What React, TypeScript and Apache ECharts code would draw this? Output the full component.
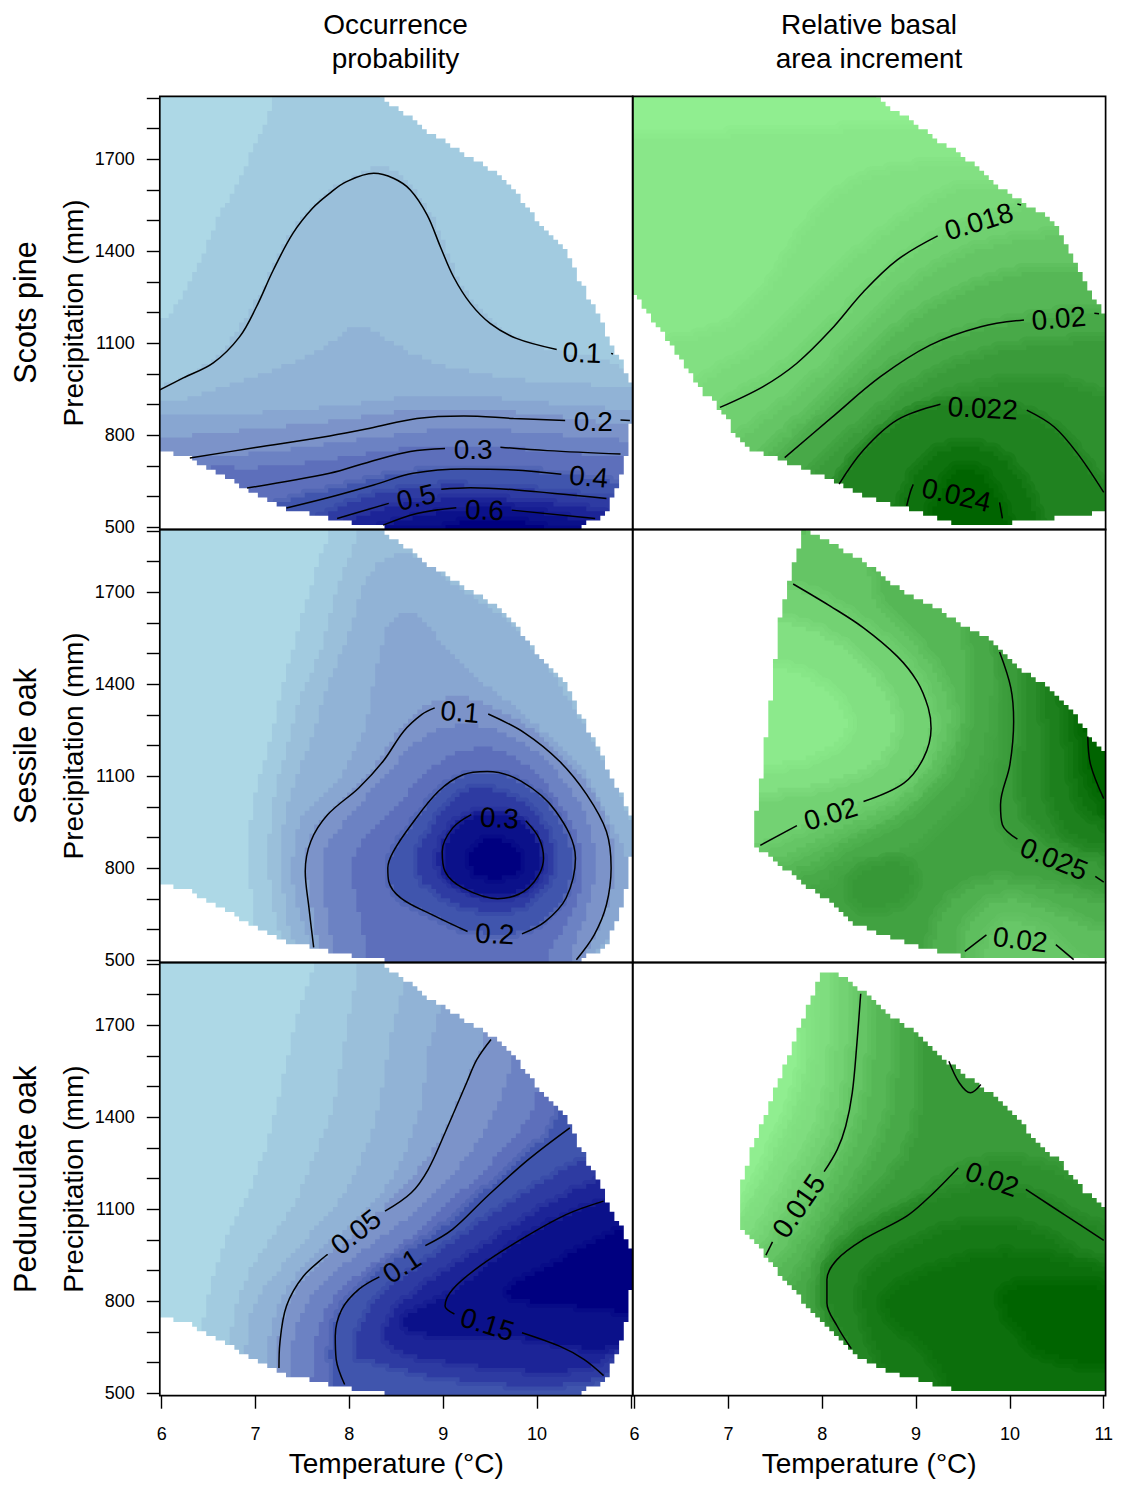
import React, { useEffect, useRef } from "react";
import * as echarts from "echarts";

type Pt = [number, number];
type Level = [number, Pt[]];
type Label = [string, number, number, number];

const XMIN = 5.98, XMAX = 11.02, YMIN = 492.5, YMAX = 1905.3;
const T_TICKS = [6, 7, 8, 9, 10, 11];
const P_TICKS = [500, 600, 700, 800, 900, 1000, 1100, 1200, 1300, 1400, 1500, 1600, 1700, 1800, 1900];
const P_LABELS = [500, 800, 1100, 1400, 1700];
const COLUMN_TITLES = [["Occurrence", "probability"], ["Relative basal", "area increment"]];
const ROW_TITLES = ["Scots pine", "Sessile oak", "Pedunculate oak"];

const BLUES = ["#ADD8E6", "#A2CBE0", "#9ABFDA", "#91B3D6", "#88A6D1", "#7C93C9", "#6C82C3", "#5D6FBB", "#4055AD", "#2E3BA2", "#1C2497", "#0B118A", "#000080"];
const GREEN_LOW = [144, 238, 144], GREEN_HIGH = [0, 100, 0];

const ALL: Pt[] = [[4, 0], [14, 0], [14, 2500], [4, 2500]];
const B: Pt[] = [[14, 0], [4, 0]];
const R: Pt[] = [[14, 2500], [14, 0]];
const E: Pt[] = [[6.5, 0], [14, 0], [14, 2500]];

const ENV_LEFT: Pt[] = [[5.9, 1910], [8.29, 1910], [8.40, 1893], [8.49, 1866], [8.65, 1834], [8.75, 1817], [8.86, 1779], [9.00, 1763], [9.16, 1730], [9.30, 1703], [9.52, 1665], [9.66, 1622], [9.80, 1578], [9.96, 1513], [10.16, 1448], [10.32, 1399], [10.42, 1328], [10.56, 1241], [10.67, 1187], [10.72, 1143], [10.81, 1084], [10.92, 1029], [10.97, 991], [11.01, 958], [11.01, 840], [10.97, 828], [10.97, 758], [10.93, 692], [10.87, 649], [10.81, 605], [10.77, 567], [10.72, 535], [10.56, 518], [10.47, 502], [10.45, 480], [8.38, 480], [8.38, 501], [7.85, 524], [7.31, 563], [6.89, 628], [6.30, 726], [5.97, 752], [5.9, 752]];
const ENV_PINE_GROWTH: Pt[] = [[5.9, 1910], [8.55, 1910], [8.76, 1861], [8.96, 1823], [9.17, 1774], [9.37, 1736], [9.62, 1681], [9.86, 1616], [10.02, 1578], [10.27, 1535], [10.47, 1497], [10.58, 1437], [10.68, 1366], [10.83, 1285], [10.93, 1230], [11.05, 1170], [11.05, 548], [10.88, 545], [10.36, 524], [9.76, 507], [9.46, 507], [9.31, 524], [9.15, 535], [9.01, 551], [8.71, 578], [8.41, 605], [8.16, 643], [7.94, 676], [7.64, 709], [7.23, 757], [7.09, 790], [6.98, 861], [6.84, 910], [6.68, 959], [6.54, 1029], [6.38, 1100], [6.23, 1160], [6.11, 1209], [6.02, 1252], [5.9, 1274]];
const ENV_SESSILE_GROWTH: Pt[] = [[7.8, 1910], [8.0, 1877], [8.3, 1823], [8.6, 1768], [8.8, 1714], [9.12, 1665], [9.4, 1611], [9.72, 1556], [9.86, 1524], [10.02, 1469], [10.22, 1431], [10.47, 1372], [10.63, 1323], [10.77, 1268], [10.83, 1230], [11.05, 1160], [11.05, 502], [9.97, 502], [9.67, 507], [9.31, 524], [8.96, 551], [8.8, 567], [8.55, 594], [8.41, 611], [8.25, 638], [8.09, 692], [7.84, 736], [7.64, 790], [7.43, 839], [7.28, 877], [7.28, 942], [7.34, 1073], [7.39, 1198], [7.44, 1328], [7.49, 1464], [7.54, 1600], [7.59, 1665], [7.64, 1725], [7.69, 1792], [7.75, 1850]];
const ENV_PEDUNCULATE_GROWTH: Pt[] = [[8.0, 1877], [8.1, 1877], [8.3, 1839], [8.44, 1806], [8.65, 1747], [8.8, 1719], [9.05, 1660], [9.26, 1600], [9.51, 1540], [9.76, 1486], [10.02, 1415], [10.27, 1328], [10.58, 1241], [10.77, 1165], [11.05, 1100], [11.05, 507], [9.46, 507], [9.26, 524], [8.96, 551], [8.65, 578], [8.41, 616], [8.16, 687], [7.94, 746], [7.73, 823], [7.59, 871], [7.44, 937], [7.28, 991], [7.14, 1035], [7.14, 1187], [7.23, 1285], [7.34, 1366], [7.49, 1486], [7.64, 1600], [7.79, 1725], [7.89, 1795]];

const PINE_OCC: Level[] = [
  [0, ALL],
  [1, [[4, 900], [5.97, 1153], [6.21, 1251], [6.37, 1339], [6.51, 1437], [6.62, 1525], [6.76, 1590], [6.92, 1698], [7.08, 1805], [7.22, 1904], [7.4, 2200], ...R, [4, 0]]],
  [2, [[4, 900], [5.97, 953], [6.23, 990], [6.55, 1046], [6.76, 1120], [6.97, 1219], [7.12, 1306], [7.29, 1427], [7.47, 1502], [7.79, 1606], [8.26, 1681], [8.54, 1665], [8.75, 1578], [8.93, 1491], [9.11, 1350], [9.22, 1274], [9.36, 1219], [9.57, 1154], [9.93, 1100], [10.28, 1067], [10.64, 1056], [10.85, 1035], [11, 1002], [11.3, 990], ...B]],
  [3, [[4, 880], [5.97, 900], [6.4, 930], [6.9, 985], [7.4, 1035], [7.79, 1100], [8.01, 1156], [8.15, 1156], [8.33, 1127], [8.61, 1073], [8.97, 1029], [9.36, 1002], [9.96, 975], [11, 958], [11.3, 950], ...B]],
  [4, [[4, 840], [6, 860], [6.9, 870], [7.79, 893], [8.11, 904], [8.36, 915], [8.75, 931], [9.25, 931], [9.93, 910], [11, 882], [11.3, 880], ...B]],
  [5, [[4, 780], [6, 790], [7, 820], [7.79, 845], [8.5, 877], [8.86, 882], [9.93, 877], [11, 828], [11.3, 820], ...B]],
  [6, [[4, 700], [6, 720], [7, 740], [7.79, 774], [8.5, 801], [9.22, 834], [9.57, 817], [10.92, 785], [11.3, 770], ...B]],
  [7, [[4, 640], [6.5, 700], [7, 690], [7.79, 720], [8.5, 757], [9.22, 774], [9.93, 752], [10.92, 730], [11.3, 710], ...B]],
  [8, [[6.5, 480], [7.3, 590], [7.79, 622], [8.33, 665], [8.86, 687], [9.57, 687], [10.28, 676], [10.92, 643], [11.3, 620], ...B]],
  [9, [[7, 430], [7.97, 578], [8.33, 611], [8.86, 638], [9.57, 632], [10.28, 611], [10.85, 589], [11.3, 560], ...B]],
  [10, [[7.5, 430], [8.08, 535], [8.5, 573], [9.04, 594], [9.57, 594], [10.28, 573], [10.75, 545], [11.3, 480], ...B]],
  [11, [[8, 440], [8.33, 507], [8.79, 540], [9.22, 562], [9.75, 562], [10.28, 535], [10.53, 513], [11, 440], ...B]],
  [12, [[8.7, 450], [8.97, 502], [9.29, 524], [9.75, 524], [10.1, 502], [10.3, 450], ...B]],
];
const SESSILE_OCC: Level[] = [
  [0, ALL],
  [1, [[7, 300], [6.99, 616], [6.94, 747], [6.94, 975], [7.04, 1094], [7.15, 1214], [7.24, 1334], [7.35, 1464], [7.48, 1605], [7.59, 1725], [7.70, 1823], [7.79, 1899], [7.9, 2200], ...R]],
  [2, [[7.31, 300], [7.31, 507], [7.29, 562], [7.18, 670], [7.14, 779], [7.15, 964], [7.24, 1094], [7.35, 1214], [7.44, 1334], [7.63, 1464], [7.75, 1562], [7.85, 1703], [8.0, 1823], [8.1, 1899], [8.2, 2200], ...R]],
  [3, [[7.48, 300], [7.48, 507], [7.33, 616], [7.29, 736], [7.29, 942], [7.35, 1029], [7.48, 1138], [7.63, 1247], [7.73, 1366], [7.85, 1464], [7.96, 1529], [8.05, 1616], [8.10, 1692], [8.29, 1801], [8.51, 1828], [8.77, 1812], [8.97, 1757], [9.21, 1703], [9.43, 1660], [9.61, 1627], [9.83, 1562], [10.09, 1464], [10.28, 1377], [10.39, 1323], [10.57, 1225], [10.76, 1116], [10.9, 1029], [11.01, 942], [11.3, 900], [14, 0]]],
  [4, [[7.62, 300], [7.62, 529], [7.51, 616], [7.40, 725], [7.39, 833], [7.44, 942], [7.59, 1007], [7.81, 1062], [8.03, 1160], [8.18, 1268], [8.25, 1388], [8.31, 1486], [8.41, 1605], [8.60, 1640], [8.75, 1627], [8.93, 1551], [9.17, 1464], [9.43, 1399], [9.69, 1344], [9.91, 1290], [10.13, 1225], [10.46, 1138], [10.61, 1051], [10.79, 942], [10.98, 833], [10.98, 736], [10.87, 649], [10.76, 562], [10.57, 507], [10.5, 300]]],
  [5, [[7.7, 300], [7.7, 507], [7.6, 670], [7.51, 833], [7.62, 942], [7.92, 1029], [8.25, 1127], [8.51, 1247], [8.77, 1334], [9.17, 1366], [9.5, 1334], [9.94, 1257], [10.31, 1160], [10.64, 1029], [10.83, 888], [10.83, 747], [10.68, 616], [10.5, 507], [10.4, 300]]],
  [6, [[7.85, 300], [7.85, 507], [7.73, 692], [7.7, 855], [7.99, 975], [8.36, 1094], [8.66, 1203], [9.02, 1268], [9.47, 1268], [9.91, 1203], [10.28, 1094], [10.57, 953], [10.64, 801], [10.53, 649], [10.35, 518], [10.3, 300]]],
  [7, [[8.21, 300], [8.21, 507], [8.07, 692], [7.99, 833], [8.29, 942], [8.66, 1062], [9.02, 1170], [9.47, 1203], [9.87, 1149], [10.2, 1040], [10.46, 888], [10.5, 779], [10.39, 649], [10.09, 518], [10.0, 300]]],
  [8, [[8.40, 790], [8.47, 855], [8.66, 942], [8.95, 1051], [9.21, 1105], [9.47, 1116], [9.83, 1084], [10.2, 986], [10.41, 833], [10.31, 703], [10.09, 627], [9.83, 583], [9.24, 594], [8.88, 649], [8.51, 703]]],
  [9, [[8.66, 812], [8.88, 942], [9.17, 1051], [9.5, 1062], [9.87, 1018], [10.13, 920], [10.2, 812], [10.05, 714], [9.69, 649], [9.24, 670], [8.84, 736]]],
  [10, [[8.88, 823], [9.1, 953], [9.43, 997], [9.8, 975], [10.02, 877], [10.09, 790], [9.87, 714], [9.5, 698], [9.1, 747]]],
  [11, [[8.99, 844], [9.1, 920], [9.32, 975], [9.65, 975], [9.91, 942], [10.07, 833], [9.91, 736], [9.58, 703], [9.21, 736], [9.02, 790]]],
  [12, [[9.28, 855], [9.43, 899], [9.72, 888], [9.87, 823], [9.72, 768], [9.43, 768], [9.28, 801]]],
];
const PEDUNCULATE_OCC: Level[] = [
  [0, ALL],
  [1, [[6.43, 300], [6.43, 698], [6.48, 817], [6.63, 958], [6.74, 1056], [6.85, 1100], [7.04, 1241], [7.15, 1339], [7.24, 1458], [7.35, 1611], [7.44, 1730], [7.55, 1828], [7.64, 1904], [7.75, 2200], ...R]],
  [2, [[6.73, 300], [6.73, 676], [6.78, 774], [6.89, 871], [7.0, 937], [7.18, 1013], [7.4, 1111], [7.55, 1219], [7.7, 1328], [7.85, 1458], [7.96, 1665], [8.05, 1817], [8.1, 1904], [8.2, 2200], ...R]],
  [3, [[6.89, 300], [6.89, 654], [6.94, 763], [7.07, 839], [7.33, 937], [7.62, 1035], [7.85, 1111], [8.0, 1176], [8.14, 1274], [8.29, 1404], [8.4, 1578], [8.45, 1698], [8.58, 1806], [8.7, 2200], ...R]],
  [4, [[7.09, 300], [7.09, 611], [7.15, 697], [7.26, 806], [7.44, 893], [7.7, 980], [8.0, 1045], [8.25, 1121], [8.47, 1208], [8.62, 1306], [8.79, 1458], [8.82, 1611], [8.97, 1741], [9.1, 2200], ...R]],
  [5, [[7.2, 300], [7.2, 578], [7.24, 687], [7.35, 806], [7.55, 893], [7.85, 969], [8.18, 1045], [8.47, 1143], [8.77, 1241], [8.99, 1339], [9.17, 1458], [9.3, 1556], [9.47, 1665], [9.6, 2200], ...R]],
  [6, [[7.35, 300], [7.35, 556], [7.4, 697], [7.55, 806], [7.85, 904], [8.21, 980], [8.55, 1056], [8.88, 1143], [9.17, 1241], [9.39, 1328], [9.61, 1458], [9.76, 1589], [9.9, 2200], ...R]],
  [7, [[7.59, 300], [7.59, 556], [7.66, 730], [7.88, 839], [8.21, 915], [8.58, 991], [8.91, 1078], [9.25, 1176], [9.58, 1274], [9.91, 1393], [10.02, 1469], [10.2, 2200], ...R]],
  [8, [[7.81, 300], [7.81, 524], [7.79, 697], [7.96, 806], [8.29, 899], [8.84, 1002], [9.39, 1143], [9.76, 1252], [10.33, 1393], [10.5, 2200], ...R]],
  [9, [[8.05, 600], [8.07, 697], [8.29, 817], [8.84, 937], [9.39, 1056], [9.94, 1165], [10.5, 1274], [11.2, 1263], [11.2, 719], [10.94, 611], [10.68, 545], [10.13, 523], [9.39, 534], [8.66, 567], [8.14, 621]]],
  [10, [[8.36, 665], [8.43, 763], [8.84, 861], [9.47, 991], [10.13, 1121], [10.65, 1198], [11.2, 1250], [11.2, 690], [11, 687], [10.65, 589], [10.13, 567], [9.39, 589], [8.66, 621]]],
  [11, [[8.58, 708], [8.6, 763], [9.02, 806], [9.47, 915], [9.83, 1002], [10.13, 1056], [10.72, 1127], [11.2, 1180], [11.2, 650], [10.87, 654], [10.5, 643], [9.83, 687], [9.02, 687]]],
  [12, [[9.58, 828], [10.13, 915], [10.87, 1035], [11.2, 1050], [11.2, 760], [10.98, 763], [10.5, 784], [9.95, 795]]],
];
const PINE_GROWTH: Level[] = [
  [0, ALL],
  [0.05, [[4, 1763], [5.95, 1763], [7.37, 1779], [9, 1800], [14, 1800], ...B]],
  [0.1, [[4, 800], [6.31, 1100], [6.84, 1122], [7.2, 1187], [7.55, 1317], [7.8, 1459], [8.16, 1578], [8.55, 1654], [9.51, 1687], [14, 1690], ...B]],
  [0.15, [[5, 500], [6.66, 969], [7.37, 1078], [7.94, 1252], [8.44, 1404], [9.08, 1545], [9.51, 1611], [10.22, 1600], [14, 1600], ...B]],
  [0.22, [[5.5, 500], [6.91, 893], [7.55, 991], [8.09, 1143], [8.62, 1306], [9.22, 1448], [10.0, 1524], [10.22, 1545], [14, 1545], ...B]],
  [0.3, [[6, 500], [7.16, 795], [7.94, 969], [8.51, 1165], [9.08, 1317], [9.69, 1415], [10.58, 1459], [14, 1460], ...B]],
  [0.4, [[6.5, 500], [7.44, 741], [8.23, 969], [8.8, 1143], [9.51, 1274], [10.22, 1339], [10.93, 1339], [14, 1340], ...B]],
  [0.5, [[6.5, 400], [7.6, 725], [8.23, 893], [8.8, 1035], [9.37, 1116], [10.15, 1176], [11, 1209], [14, 1210], ...B]],
  [0.6, [[7, 400], [7.91, 676], [8.51, 850], [9.15, 991], [9.86, 1078], [11, 1111], [14, 1115], ...B]],
  [0.68, [[7.5, 400], [8.16, 632], [8.65, 806], [9.22, 915], [10.04, 980], [10.58, 970], [11, 915], [14, 900], ...B]],
  [0.78, [[7.8, 400], [8.18, 643], [8.51, 774], [8.9, 861], [9.26, 901], [10.18, 882], [10.58, 785], [11, 614], [11.5, 400], ...B]],
  [0.9, [[8.7, 400], [8.87, 578], [9.05, 708], [9.44, 774], [9.86, 741], [10.15, 643], [10.29, 524], [10.4, 400], ...B]],
  [1, [[9, 400], [9.15, 535], [9.33, 654], [9.51, 698], [9.72, 665], [9.9, 567], [9.97, 513], [10.1, 400], ...B]],
];
const SESSILE_GROWTH: Level[] = [
  [0.55, ALL],
  [0.5, [[9.79, 2200], [9.79, 1594], [9.83, 1431], [9.76, 1268], [9.72, 1160], [9.51, 1029], [9.15, 920], [8.8, 844], [8.23, 833], [7.94, 725], [7.02, 725], [6.66, 1377], [7.37, 1920], [8, 2200]]],
  [0.4, [[9.44, 2200], [9.44, 1616], [9.54, 1431], [9.51, 1268], [9.37, 1138], [9.08, 1029], [8.65, 942], [8.23, 888], [7.8, 790], [7.02, 780], [6.66, 1377], [7.37, 1920], [8, 2200]]],
  [0.3, [[8.5, 2200], [8.44, 1681], [8.97, 1540], [9.33, 1377], [9.37, 1247], [9.15, 1116], [8.8, 1007], [8.26, 942], [7.73, 855], [7.3, 812], [6.66, 1300], [7.0, 1800], [7.62, 1790]]],
  [0.2, [[7.69, 1725], [8.23, 1632], [8.73, 1518], [9.01, 1420], [9.15, 1312], [9.15, 1225], [9.01, 1127], [8.73, 1051], [8.44, 1018], [7.8, 942], [7.34, 877], [6.66, 900], [6.66, 1700]]],
  [0.1, [[7.52, 1616], [8.09, 1551], [8.51, 1442], [8.76, 1312], [8.76, 1214], [8.51, 1127], [8.09, 1084], [7.55, 1051], [7.02, 1051], [7.02, 1600]]],
  [0.03, [[7.48, 1464], [7.94, 1410], [8.26, 1312], [8.26, 1225], [7.87, 1160], [7.44, 1138], [7.02, 1138], [7.02, 1464]]],
  [0.6, [[9.8, 2200], [9.86, 1551], [10, 1377], [9.97, 1160], [9.86, 996], [10.04, 888], [10.58, 801], [11.04, 747], [14, 747], [14, 2200]]],
  [0.7, [[10.1, 2200], [10.15, 1486], [10.18, 1268], [10.11, 1051], [10.26, 920], [11.04, 822], [14, 822], [14, 2200]]],
  [0.8, [[10.3, 2200], [10.36, 1399], [10.43, 1214], [10.43, 1029], [10.58, 920], [11.04, 866], [14, 866], [14, 2200]]],
  [0.9, [[10.5, 2200], [10.58, 1355], [10.68, 1160], [10.72, 1018], [11.04, 942], [14, 942], [14, 2200]]],
  [1, [[10.7, 2200], [10.79, 1247], [10.84, 1116], [11.04, 986], [14, 986], [14, 2200]]],
  [0.45, [[9.15, 300], [9.15, 486], [9.26, 670], [9.72, 768], [10.4, 736], [11.04, 670], [14, 670], [14, 300]]],
  [0.35, [[9.51, 300], [9.51, 486], [9.54, 627], [9.94, 714], [10.5, 649], [11.04, 573], [14, 573], [14, 300]]],
  [0.28, [[9.72, 300], [9.72, 573], [9.97, 638], [10.43, 584], [10.72, 486], [10.8, 300]]],
  [0.62, [[8.23, 757], [8.73, 834], [9.01, 779], [8.87, 692], [8.44, 660]]],
];
const PEDUNCULATE_GROWTH: Level[] = [
  [0, ALL],
  [0.08, [[7.7, 2200], [7.76, 1806], [7.84, 1589], [7.73, 1447], [7.52, 1306], [7.3, 1165], [7.14, 1067], [6.5, 800], ...E]],
  [0.12, [[7.9, 2200], [7.94, 1893], [7.98, 1589], [7.84, 1426], [7.66, 1285], [7.37, 1132], [7.09, 1013], [6.5, 700], ...E]],
  [0.2, [[8.1, 2200], [8.17, 1871], [8.16, 1589], [8.05, 1393], [7.8, 1241], [7.52, 1100], [7.27, 980], [6.5, 650], ...E]],
  [0.3, [[8.4, 2200], [8.41, 1850], [8.33, 1534], [8.23, 1371], [8.01, 1230], [7.73, 1089], [7.41, 953], [6.5, 600], ...E]],
  [0.4, [[8.6, 2200], [8.58, 1806], [8.55, 1534], [8.44, 1371], [8.23, 1219], [7.94, 1056], [7.59, 915], [6.5, 550], ...E]],
  [0.5, [[8.85, 2200], [8.83, 1752], [8.8, 1480], [8.69, 1328], [8.37, 1165], [8.05, 1013], [7.76, 871], [7.62, 828], [6.5, 500], ...E]],
  [0.6, [[9.1, 2200], [9.08, 1698], [9.08, 1426], [8.94, 1263], [8.51, 1121], [8.16, 1013], [7.94, 882], [7.94, 719], [7.6, 400], ...E]],
  [0.68, [[14, 1132], [11.04, 1132], [10.22, 1263], [9.51, 1241], [9.08, 1132], [8.51, 1045], [8.12, 948], [8.01, 828], [8.16, 676], [8.41, 500], [8.5, 300], [14, 300]]],
  [0.76, [[14, 996], [11.04, 996], [10.18, 1165], [9.51, 1165], [8.97, 1100], [8.44, 1013], [8.08, 915], [8.05, 817], [8.3, 643], [8.51, 502], [8.6, 300], [14, 300]]],
  [0.85, [[14, 882], [11.04, 882], [10.22, 1045], [9.51, 1056], [8.8, 958], [8.44, 871], [8.44, 741], [8.8, 502], [8.9, 300], [14, 300]]],
  [0.92, [[14, 882], [11.04, 882], [10.22, 958], [9.51, 937], [8.73, 839], [8.65, 763], [9.15, 650], [9.4, 502], [9.45, 300], [14, 300]]],
  [1, [[14, 840], [11.04, 840], [10.04, 860], [9.9, 795], [10.15, 687], [10.4, 621], [11.04, 590], [14, 590]]],
];

const PINE_OCC_LINES: Pt[][] = [
  [[5.98, 948], [6.23, 987], [6.55, 1036], [6.83, 1121], [7.01, 1219], [7.19, 1339], [7.40, 1459], [7.61, 1541], [7.79, 1589], [7.97, 1627], [8.26, 1654], [8.47, 1638], [8.65, 1600], [8.83, 1518], [8.97, 1415], [9.11, 1317], [9.29, 1230], [9.5, 1165], [9.78, 1116], [10.21, 1080]],
  [[10.79, 1067], [10.81, 1065]],
  [[6.3, 726], [7.0, 760], [7.79, 798], [8.22, 823], [8.72, 855], [9.22, 863], [9.75, 855], [10.3, 848]],
  [[10.89, 850], [10.99, 848]],
  [[6.91, 628], [7.79, 676], [8.22, 714], [8.65, 747], [9.02, 757]],
  [[9.61, 761], [10.11, 750], [10.89, 739]],
  [[7.33, 563], [7.79, 598], [8.26, 638], [8.68, 676], [9.22, 690], [9.75, 687], [10.26, 673]],
  [[7.87, 529], [8.42, 578]],
  [[8.98, 624], [9.29, 629], [9.78, 622], [10.74, 594]],
  [[8.36, 507], [8.72, 545], [9.14, 564]],
  [[9.73, 556], [10.62, 529]],
];
const SESSILE_OCC_LINES: Pt[][] = [
  [[7.62, 542], [7.57, 670], [7.53, 790], [7.59, 888], [7.77, 975], [8.1, 1062], [8.36, 1149], [8.58, 1247], [8.77, 1301], [8.91, 1323]],
  [[9.48, 1303], [9.87, 1241], [10.24, 1149], [10.53, 1040], [10.74, 920], [10.79, 801], [10.74, 681], [10.61, 583], [10.42, 502]],
  [[9.26, 594], [8.88, 649], [8.55, 703], [8.42, 757], [8.41, 801], [8.47, 855], [8.66, 942], [8.95, 1051], [9.21, 1105], [9.47, 1116], [9.83, 1084], [10.2, 986], [10.41, 833], [10.31, 703], [10.09, 627], [9.84, 586]],
  [[9.3, 975], [9.1, 931], [8.99, 855], [9.02, 790], [9.21, 736], [9.58, 701], [9.91, 736], [10.07, 833], [10.02, 899], [9.88, 955]],
];
const PEDUNCULATE_OCC_LINES: Pt[][] = [
  [[7.25, 583], [7.26, 665], [7.33, 785], [7.51, 882], [7.77, 953]],
  [[8.38, 1094], [8.66, 1154], [8.84, 1230], [9.02, 1350], [9.25, 1513], [9.36, 1589], [9.51, 1654]],
  [[7.95, 529], [7.86, 611], [7.85, 687], [7.92, 774], [8.1, 839], [8.32, 880]],
  [[8.81, 982], [9.1, 1035], [9.47, 1143], [9.91, 1263], [10.35, 1366]],
  [[10.71, 1127], [10.31, 1083], [9.83, 1002], [9.39, 915], [9.1, 839], [9.02, 785], [9.12, 759]],
  [[9.84, 698], [10.24, 654], [10.5, 611], [10.71, 558]],
];
const PINE_GROWTH_LINES: Pt[][] = [
  [[6.91, 891], [7.37, 959], [7.73, 1035], [8.09, 1143], [8.44, 1268], [8.8, 1372], [9.23, 1450]],
  [[10.08, 1554], [10.12, 1551]],
  [[7.6, 727], [8.09, 855], [8.62, 991], [9.15, 1094], [9.69, 1154], [10.15, 1176]],
  [[10.9, 1198], [10.95, 1196]],
  [[8.18, 641], [8.44, 752], [8.8, 850], [9.26, 901]],
  [[10.18, 882], [10.47, 828], [10.72, 741], [11, 614]],
  [[8.9, 570], [8.94, 616], [8.97, 640]],
  [[9.89, 581], [9.92, 529]],
];
const SESSILE_GROWTH_LINES: Pt[][] = [
  [[7.69, 1727], [8.09, 1654], [8.44, 1584], [8.8, 1491], [9.01, 1410], [9.13, 1323], [9.16, 1257], [9.08, 1160], [8.87, 1078], [8.44, 1018]],
  [[7.73, 939], [7.34, 875]],
  [[9.89, 1505], [10.01, 1388], [10.04, 1279], [10, 1138], [9.9, 1007], [9.92, 942], [10.08, 895]],
  [[10.91, 774], [11, 755]],
  [[10.83, 1230], [10.86, 1138], [11, 1027]],
  [[9.52, 529], [9.75, 583]],
  [[10.49, 551], [10.68, 502]],
];
const PEDUNCULATE_GROWTH_LINES: Pt[][] = [
  [[8.41, 1803], [8.37, 1643], [8.32, 1480], [8.25, 1371], [8.16, 1295], [8.02, 1223]],
  [[7.47, 994], [7.4, 951]],
  [[9.45, 1236], [9.15, 1143], [8.9, 1078], [8.44, 1002], [8.16, 937], [8.05, 871], [8.05, 795], [8.16, 719], [8.31, 646]],
  [[10.17, 1165], [10.58, 1083], [11, 999]],
  [[9.35, 1583], [9.46, 1513], [9.58, 1480], [9.69, 1507]],
];

const PINE_OCC_LABELS: Label[] = [["0.1", 10.48, 1069, -2], ["0.2", 10.6, 844, 0], ["0.3", 9.32, 754, 0], ["0.4", 10.55, 665, -5], ["0.5", 8.71, 598, 13], ["0.6", 9.44, 556, -2]];
const SESSILE_OCC_LABELS: Label[] = [["0.1", 9.18, 1310, -5], ["0.2", 9.55, 586, -3], ["0.3", 9.6, 964, -3]];
const PEDUNCULATE_OCC_LABELS: Label[] = [["0.05", 8.07, 1026, 38], ["0.1", 8.56, 915, 33], ["0.15", 9.47, 725, -17]];
const PINE_GROWTH_LABELS: Label[] = [["0.018", 9.67, 1497, 17], ["0.02", 10.52, 1181, 5], ["0.022", 9.71, 888, -3], ["0.024", 9.43, 605, -13]];
const SESSILE_GROWTH_LABELS: Label[] = [["0.02", 8.09, 977, 17], ["0.025", 10.47, 830, -22], ["0.02", 10.11, 567, -7]];
const PEDUNCULATE_GROWTH_LABELS: Label[] = [["0.015", 7.75, 1111, 55], ["0.02", 9.81, 1198, -20]];

const FONT = '"Liberation Sans", Arial, sans-serif';
const GRID_W = 472.9, GRID_H = 433.3;
const GRID_LEFT = [159.8, 632.7], GRID_TOP = [96.3, 529.3, 962.4];

const PANELS = [
  { col: 0, row: 0, levels: PINE_OCC, env: ENV_LEFT, lines: PINE_OCC_LINES, labels: PINE_OCC_LABELS },
  { col: 1, row: 0, levels: PINE_GROWTH, env: ENV_PINE_GROWTH, lines: PINE_GROWTH_LINES, labels: PINE_GROWTH_LABELS },
  { col: 0, row: 1, levels: SESSILE_OCC, env: ENV_LEFT, lines: SESSILE_OCC_LINES, labels: SESSILE_OCC_LABELS },
  { col: 1, row: 1, levels: SESSILE_GROWTH, env: ENV_SESSILE_GROWTH, lines: SESSILE_GROWTH_LINES, labels: SESSILE_GROWTH_LABELS },
  { col: 0, row: 2, levels: PEDUNCULATE_OCC, env: ENV_LEFT, lines: PEDUNCULATE_OCC_LINES, labels: PEDUNCULATE_OCC_LABELS },
  { col: 1, row: 2, levels: PEDUNCULATE_GROWTH, env: ENV_PEDUNCULATE_GROWTH, lines: PEDUNCULATE_GROWTH_LINES, labels: PEDUNCULATE_GROWTH_LABELS },
];

function shade(col: number, v: number) {
  if (col === 0) return BLUES[v];
  const c = GREEN_LOW.map((a, i) => Math.round(a + (GREEN_HIGH[i] - a) * v));
  return `rgb(${c[0]},${c[1]},${c[2]})`;
}
function rounded(ring: Pt[], n = 2): Pt[] {
  let r = ring;
  for (let k = 0; k < n; k++) {
    const o: Pt[] = [];
    r.forEach((p, i) => {
      const q = r[(i + 1) % r.length];
      o.push([0.75 * p[0] + 0.25 * q[0], 0.75 * p[1] + 0.25 * q[1]]);
      o.push([0.25 * p[0] + 0.75 * q[0], 0.25 * p[1] + 0.75 * q[1]]);
    });
    r = o;
  }
  return r;
}
// Outline on the 0.05 degC x 15 mm raster of the image, so that edges step like its cells.
function cellOutline(ring: Pt[]): Pt[] {
  const sx = (x: number) => Math.min(XMAX, Math.max(XMIN, Math.round((x - 5.975) / 0.05) * 0.05 + 5.975));
  const sy = (y: number) => Math.min(YMAX, Math.max(YMIN, Math.round((y - 492.5) / 15) * 15 + 492.5));
  const out: Pt[] = [];
  ring.forEach((p, i) => {
    const q = ring[(i + 1) % ring.length];
    const n = Math.max(1, Math.ceil(Math.max(Math.abs(q[0] - p[0]) / 0.0125, Math.abs(q[1] - p[1]) / 3.75)));
    for (let k = 0; k < n; k++) {
      const x = sx(p[0] + ((q[0] - p[0]) * k) / n), y = sy(p[1] + ((q[1] - p[1]) * k) / n);
      const l = out[out.length - 1];
      if (!l) out.push([x, y]);
      else if (l[0] !== x || l[1] !== y) {
        if (l[0] !== x && l[1] !== y) out.push([x, l[1]]);
        out.push([x, y]);
      }
    }
  });
  return out;
}
function area(p: number[][]) {
  let a = 0;
  p.forEach((v, i) => { const w = p[(i + 1) % p.length]; a += v[0] * w[1] - w[0] * v[1]; });
  return a;
}

function buildOption() {
  const grid: any[] = [], xAxis: any[] = [], yAxis: any[] = [], series: any[] = [];
  PANELS.forEach((pn, g) => {
    grid.push({ left: GRID_LEFT[pn.col], top: GRID_TOP[pn.row], width: GRID_W, height: GRID_H, show: false });
    const bottom = pn.row === 2, left = pn.col === 0;
    xAxis.push({
      type: "value", gridIndex: g, min: XMIN, max: XMAX, show: bottom,
      name: bottom ? "Temperature (°C)" : "", nameLocation: "middle", nameGap: 54,
      nameTextStyle: { fontFamily: FONT, fontSize: 28, color: "#000" },
      axisLine: { show: false }, splitLine: { show: false },
      axisTick: { show: true, length: 13, customValues: T_TICKS, lineStyle: { color: "#000", width: 1.4 } },
      axisLabel: { show: true, margin: 29, fontFamily: FONT, fontSize: 18, color: "#000", customValues: left ? T_TICKS.slice(0, 5) : T_TICKS, hideOverlap: false, formatter: (v: number) => String(v) },
    });
    yAxis.push({
      type: "value", gridIndex: g, min: YMIN, max: YMAX, show: left,
      name: left ? "Precipitation (mm)" : "", nameLocation: "middle", nameRotate: 90, nameGap: 72,
      nameTextStyle: { fontFamily: FONT, fontSize: 28, color: "#000" },
      axisLine: { show: false }, splitLine: { show: false },
      axisTick: { show: true, length: 13, customValues: P_TICKS, lineStyle: { color: "#000", width: 1.4 } },
      axisLabel: { show: true, margin: 25, fontFamily: FONT, fontSize: 18, color: "#000", customValues: P_LABELS, formatter: (v: number) => String(v) },
    });
    const base = { type: "custom", xAxisIndex: g, yAxisIndex: g, silent: true, clip: false };
    series.push({
      ...base, clip: true, z: 2, data: pn.levels.map((_, i) => [6, 500 + i]),
      renderItem: (p: any, api: any) => {
        const [v, ring] = pn.levels[p.dataIndex];
        const points = cellOutline(rounded(ring)).map((c) => api.coord(c));
        const fill = shade(pn.col, v);
        const poly = { type: "polygon", shape: { points }, style: { fill, stroke: "none" } };
        // Soft edge on the panels whose colours run as a continuous gradient in the image.
        const soft = p.dataIndex > 0 && (pn.col === 1 || v >= 8);
        if (!soft) return poly;
        const widths = pn.col === 1 ? [18, 10] : [8];
        return {
          type: "group",
          children: [
            ...widths.map((w) => ({ type: "polygon", shape: { points }, style: { fill: "none", stroke: fill, lineWidth: w, lineJoin: "round", opacity: 0.35 } })),
            poly,
          ],
        };
      },
    });
    series.push({
      ...base, z: 3, data: [[6, 500]],
      renderItem: (_: any, api: any) => {
        const outer = [[XMIN, YMAX], [XMAX, YMAX], [XMAX, YMIN], [XMIN, YMIN]].map((c) => api.coord(c));
        let inner = cellOutline(pn.env).map((c) => api.coord(c));
        if (area(outer) * area(inner) > 0) inner = inner.slice().reverse();
        return { type: "polygon", shape: { points: [...outer, outer[0], ...inner, inner[0], outer[0]] }, style: { fill: "#fff", stroke: "none" } };
      },
    });
    pn.lines.forEach((seg) => {
      series.push({
        type: "line", xAxisIndex: g, yAxisIndex: g, z: 4, silent: true, data: seg, symbol: "none", showSymbol: false,
        smooth: 0.35, lineStyle: { color: "#000", width: 1.5 },
      });
    });
    series.push({
      ...base, z: 5, data: pn.labels.map((l) => [l[1], l[2]]),
      renderItem: (p: any, api: any) => {
        const [txt, x, y, rot] = pn.labels[p.dataIndex];
        const c = api.coord([x, y]);
        return { type: "text", x: c[0], y: c[1], rotation: (rot * Math.PI) / 180, style: { text: txt, font: `28px ${FONT}`, fill: "#000", align: "center", verticalAlign: "middle" } };
      },
    });
    series.push({
      ...base, z: 6, data: [[6, 500]],
      renderItem: (_: any, api: any) => {
        const a = api.coord([XMIN, YMAX]), b = api.coord([XMAX, YMIN]);
        return { type: "rect", shape: { x: a[0], y: a[1], width: b[0] - a[0], height: b[1] - a[1] }, style: { fill: "none", stroke: "#000", lineWidth: 1.7 } };
      },
    });
  });
  const graphic: any[] = [];
  const text = (t: string, x: number, y: number, size: number, rotation = 0) =>
    graphic.push({ type: "text", x, y, rotation, silent: true, style: { text: t, font: `${size}px ${FONT}`, fill: "#000", align: "center", verticalAlign: "middle" } });
  COLUMN_TITLES.forEach((lines, c) => lines.forEach((t, i) => text(t, c === 0 ? 395.5 : 869, 24.5 + i * 34, 28)));
  ROW_TITLES.forEach((t, r) => text(t, 25, 312.5 + r * 433.4, 30.5, Math.PI / 2));
  return { animation: false, backgroundColor: "#fff", grid, xAxis, yAxis, series, graphic };
}

export default function App() {
  const ref = useRef<HTMLDivElement>(null);
  useEffect(() => {
    const chart = echarts.init(ref.current!, undefined, { renderer: "svg" });
    chart.setOption(buildOption() as any);
    return () => chart.dispose();
  }, []);
  return <div ref={ref} style={{ position: "absolute", left: 0, top: 0, width: 1121, height: 1486 }} />;
}
